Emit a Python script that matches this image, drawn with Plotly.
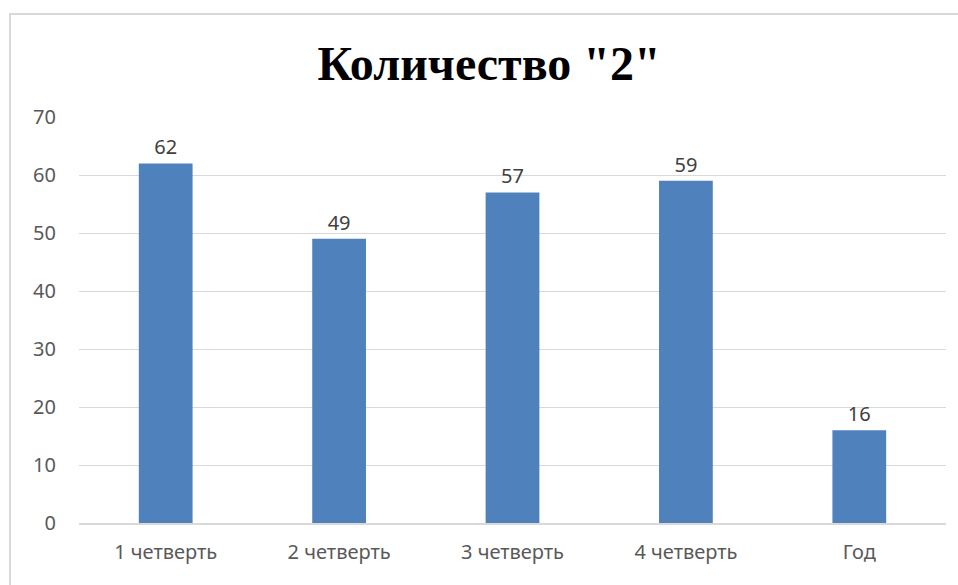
import plotly.graph_objects as go

categories = ["1 четверть", "2 четверть", "3 четверть", "4 четверть", "Год"]
values = [62, 49, 57, 59, 16]
y_ticks = [0, 10, 20, 30, 40, 50, 60, 70]

W, H = 958, 585
L, R, T, B = 79, 12, 117, 62
pw, ph = W - L - R, H - T - B

def px_x(x):
    return (x - L) / pw

def px_y(y):
    return (H - B - y) / ph

fig = go.Figure(
    go.Bar(
        x=categories,
        y=values,
        width=0.31,
        marker=dict(color="#4f81bd", line=dict(width=0)),
        text=[str(v) for v in values],
        textposition="outside",
        textfont=dict(family="Noto Sans", size=20, color="#404040"),
        cliponaxis=False,
    )
)

fig.update_layout(
    width=W,
    height=H,
    margin=dict(l=L, r=R, t=T, b=B),
    paper_bgcolor="white",
    plot_bgcolor="white",
    showlegend=False,
    title=dict(
        text="<b>Количество \"2\"</b>",
        xref="container",
        x=489 / W,
        xanchor="center",
        y=1 - 63 / H,
        yanchor="middle",
        font=dict(family="Liberation Serif", size=48, color="black"),
    ),
    bargap=0.69,
    shapes=[
        dict(
            type="rect",
            xref="paper",
            yref="paper",
            x0=px_x(10),
            x1=px_x(962),
            y0=px_y(592),
            y1=px_y(14),
            line=dict(color="#d9d9d9", width=2),
            fillcolor="rgba(0,0,0,0)",
            layer="below",
        )
    ],
)

fig.update_xaxes(
    showgrid=False,
    showline=True,
    linecolor="#d9d9d9",
    linewidth=2,
    ticks="",
    ticklabelstandoff=10,
    tickfont=dict(family="Noto Sans", size=20, color="#595959"),
)

fig.update_yaxes(
    range=[0, 70],
    tickvals=y_ticks,
    showgrid=True,
    gridcolor="#d9d9d9",
    gridwidth=1,
    zeroline=False,
    showline=False,
    ticks="",
    ticklabelstandoff=22,
    tickfont=dict(family="Noto Sans", size=20, color="#595959"),
)

fig.write_html("out.html")
